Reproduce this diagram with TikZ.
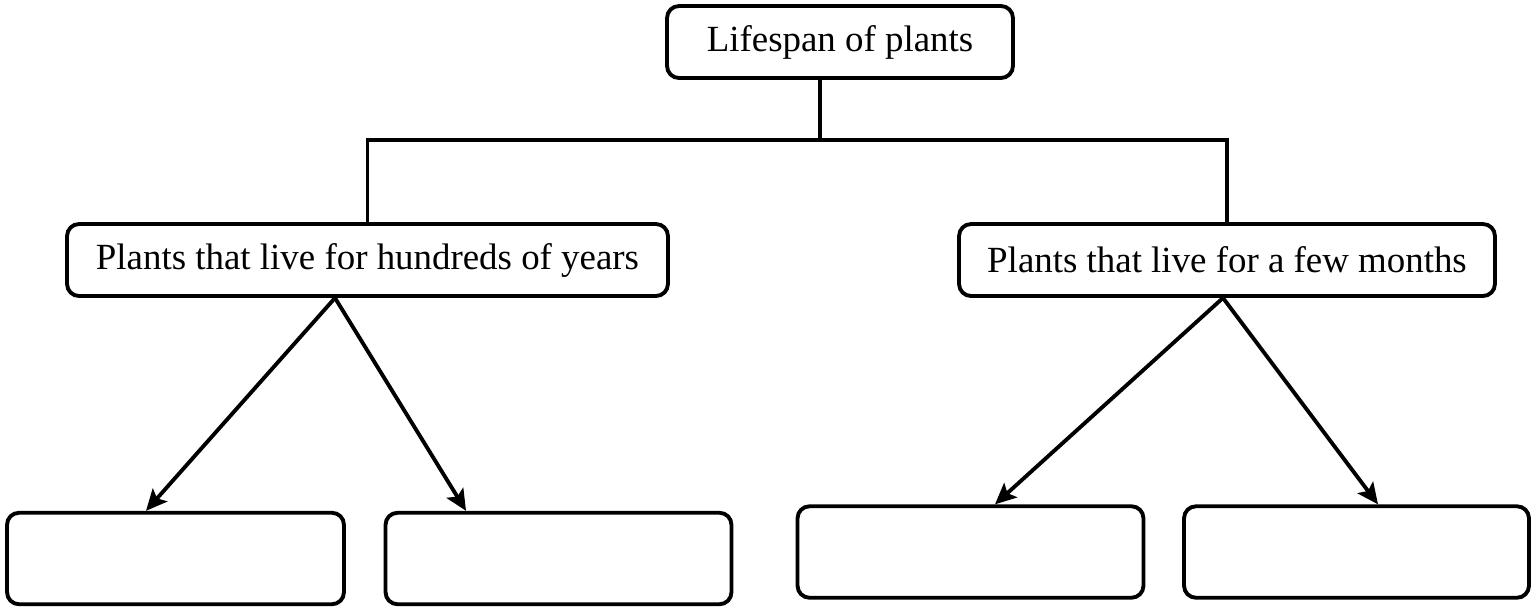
\documentclass[tikz,border=0pt]{standalone}
\usepackage{fontspec}
\setmainfont{Liberation Serif}
\usetikzlibrary{arrows.meta}
\begin{document}
\begin{tikzpicture}[x=0.02cm,y=-0.02cm,line width=2.2pt,
        box/.style={draw,rounded corners=0.24cm,minimum height=1.44cm,inner sep=0pt,
            font=\fontsize{21}{25}\selectfont},
        leaf/.style={draw,rounded corners=0.24cm,minimum height=1.83cm,minimum width=6.92cm},
        arr/.style={-{Stealth[length=12pt,width=11pt,inset=2.5pt]}}]
    \useasboundingbox (0,0) rectangle (1531,606);

    \node[box,minimum width=6.92cm] (life) at (840,42) {Lifespan of plants};
    \node[box,minimum width=12.02cm] (long) at (367.5,260) {Plants that live for hundreds of years};
    \node[box,minimum width=10.72cm] (short) at (1227,260) {Plants that live for a few months};

    \node[leaf,minimum width=6.74cm] (l1) at (175.5,558.5) {};
    \node[leaf] (l2) at (558.5,558.5) {};
    \node[leaf] (s1) at (970.5,552) {};
    \node[leaf,minimum width=6.9cm] (s2) at (1356.5,552) {};

    % bar under the top box
    \coordinate (split) at (820,140);
    \draw (split) -- (split |- life.south);
    \draw (long.north) |- (split) -| (short.north);

    \draw[arr] ([xshift=-0.65cm]long.south) -- ([xshift=-0.59cm]l1.north);
    \draw[arr] ([xshift=-0.65cm]long.south) -- ([xshift=-1.85cm]l2.north);
    \draw[arr] ([xshift=-0.08cm]short.south) -- ([xshift=0.49cm]s1.north);
    \draw[arr] ([xshift=-0.08cm]short.south) -- ([xshift=0.43cm]s2.north);
\end{tikzpicture}
\end{document}
